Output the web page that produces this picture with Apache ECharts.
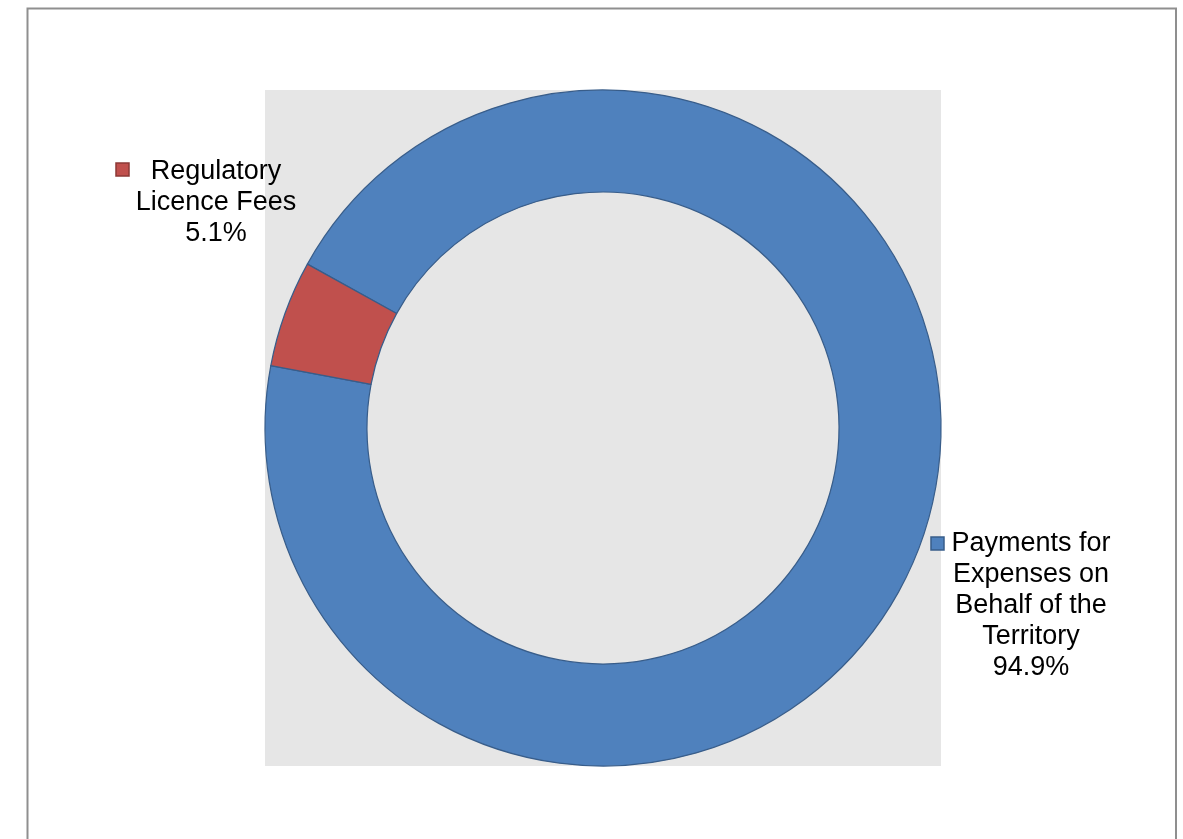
<!DOCTYPE html>
<html>
<head>
<meta charset="utf-8">
<script src="https://cdn.jsdelivr.net/npm/echarts@6/dist/echarts.min.js"></script>
<style>html,body{margin:0;padding:0;background:#fff}#c{width:1183px;height:839px}</style>
</head>
<body>
<div id="c"></div>
<script>
const categories = ['Payments for Expenses on Behalf of the Territory', 'Regulatory Licence Fees'];
const labelText = [['Payments for', 'Expenses on', 'Behalf of the', 'Territory'], ['Regulatory', 'Licence Fees']];
const values = [94.9, 5.1];
const colors = ['#4F81BD', '#C0504D'];

const chart = echarts.init(document.getElementById('c'), null, {renderer: 'canvas'});
const labelPos = [{x: 1031, y: 606}, {x: 216, y: 203}];
const markerPos = [{x: 931, y: 537}, {x: 116, y: 163}];

chart.setOption({
  animation: false,
  backgroundColor: '#ffffff',
  color: colors,
  graphic: [
    {type: 'rect', z: -10, shape: {x: 27.5, y: 8.5, width: 1148.5, height: 850}, style: {fill: '#fff', stroke: '#8f8f8f', lineWidth: 2}},
    {type: 'rect', z: -5, shape: {x: 265, y: 90, width: 676, height: 676}, style: {fill: '#E6E6E6'}},
    ...markerPos.map((p, i) => ({type: 'rect', z: 10, shape: {x: p.x, y: p.y, width: 13, height: 13}, style: {fill: colors[i], stroke: i === 0 ? '#385D8A' : '#8C3836', lineWidth: 1.5}}))
  ],
  series: [{
    type: 'pie',
    center: [603, 428],
    radius: [236, 338],
    startAngle: 151,
    clockwise: true,
    avoidLabelOverlap: false,
    itemStyle: {borderColor: '#385D8A', borderWidth: 1.2},
    emphasis: {disabled: true},
    label: {
      show: true,
      position: 'outside',
      fontFamily: 'Liberation Sans, Arial, sans-serif',
      fontSize: 27,
      lineHeight: 31,
      color: '#000',
      align: 'center',
      formatter: p => labelText[p.dataIndex].join('\n') + '\n' + p.value.toFixed(1) + '%'
    },
    labelLine: {show: false},
    labelLayout: p => ({x: labelPos[p.dataIndex].x, y: labelPos[p.dataIndex].y, align: 'center', verticalAlign: 'middle'}),
    data: categories.map((c, i) => ({name: c, value: values[i]}))
  }]
});
</script>
</body>
</html>
